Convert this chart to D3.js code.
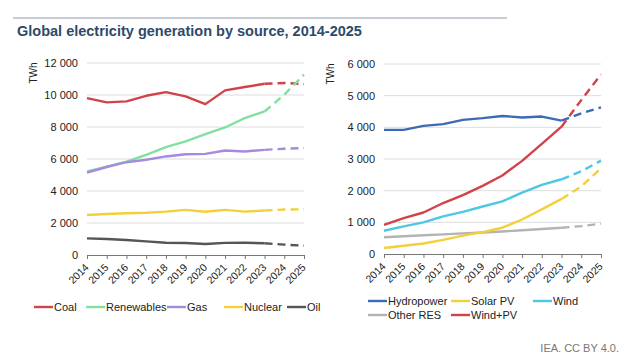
<!DOCTYPE html>
<html><head><meta charset="utf-8">
<script src="https://cdn.jsdelivr.net/npm/d3@7"></script>
<style>body{margin:0;background:#fff;font-family:"Liberation Sans",Arial,sans-serif;}</style>
</head><body>
<svg id="c" width="640" height="360"></svg>
<script>
const years = [2014,2015,2016,2017,2018,2019,2020,2021,2022,2023,2024,2025];
const coal = [9800,9540,9600,9950,10180,9910,9430,10290,10500,10700,10750,10690];
const renewables = [5220,5520,5840,6260,6740,7100,7550,7970,8560,8970,10020,11270];
const gas = [5150,5500,5800,5950,6160,6300,6320,6530,6470,6570,6640,6680];
const nuclear = [2500,2560,2610,2640,2710,2820,2700,2820,2710,2780,2840,2860];
const oil = [1040,1000,940,850,770,750,690,760,770,730,650,585];
const hydropower = [3920,3920,4045,4100,4235,4290,4360,4310,4340,4210,4440,4630];
const solarPV = [190,260,330,445,580,690,830,1090,1410,1740,2130,2710];
const wind = [735,870,1000,1190,1330,1500,1660,1940,2185,2360,2610,2950];
const otherRES = [530,560,590,620,650,680,710,750,790,830,880,960];
const windPV = [920,1130,1310,1610,1860,2150,2480,2940,3480,4020,4860,5670];
const leftTicks = [0,2000,4000,6000,8000,10000,12000];
const rightTicks = [0,1000,2000,3000,4000,5000,6000];
const lastActual = 2023;

const svg = d3.select("#c");
const fmt = v => d3.format(",")(v).replace(/,/g," ");

svg.append("line").attr("x1",13).attr("x2",507).attr("y1",18).attr("y2",18)
  .attr("stroke","#b4bcc6").attr("stroke-width",1.5);
svg.append("text").attr("x",17).attr("y",36).text("Global electricity generation by source, 2014-2025")
  .attr("font-size",14.5).attr("font-weight","bold").attr("fill","#2e4a6a");

function panel(cfg){
  const x = d3.scalePoint().domain(years).range([cfg.x0,cfg.x1]);
  const y = d3.scaleLinear().domain([0,d3.max(cfg.ticks)]).range([cfg.yb,cfg.yt]);
  const g = svg.append("g");
  g.selectAll("line.grid").data(cfg.ticks.slice(1)).enter().append("line")
    .attr("x1",cfg.x0).attr("x2",cfg.x1).attr("y1",d=>y(d)).attr("y2",d=>y(d))
    .attr("stroke","#dedede").attr("stroke-width",1);
  g.selectAll("text.yl").data(cfg.ticks).enter().append("text")
    .attr("x",cfg.x0-9).attr("y",d=>y(d)+4).attr("text-anchor","end")
    .attr("font-size",11).attr("fill","#222").text(fmt);
  g.append("text").attr("transform",`translate(${cfg.x0-50},${cfg.yt+10}) rotate(-90)`)
    .attr("text-anchor","middle").attr("font-size",10).attr("fill","#222").text("TWh");
  const ax = g.append("g").attr("transform",`translate(0,${cfg.yb})`)
    .call(d3.axisBottom(x).tickSize(4).tickSizeOuter(0));
  ax.select(".domain").attr("stroke","#777");
  ax.selectAll(".tick line").attr("stroke","#777");
  ax.selectAll(".tick text").attr("font-size",10.5).attr("fill","#222")
    .attr("font-family","Liberation Sans, Arial, sans-serif")
    .attr("text-anchor","end").attr("dy",0).attr("y",0)
    .attr("transform","translate(2,13) rotate(-45)");
  const line = d3.line().x(d=>x(d[0])).y(d=>y(d[1]));
  cfg.series.forEach(s=>{
    const pts = years.map((yr,i)=>[yr,s.values[i]]);
    const solid = pts.filter(p=>p[0]<=lastActual);
    const dash = pts.filter(p=>p[0]>=lastActual);
    g.append("path").attr("d",line(solid)).attr("fill","none").attr("stroke",s.color)
      .attr("stroke-width",2.4).attr("stroke-linejoin","round");
    g.append("path").attr("d",line(dash)).attr("fill","none").attr("stroke",s.color)
      .attr("stroke-width",2.4).attr("stroke-dasharray","8,5");
  });
  cfg.series.forEach(s=>{
    g.append("line").attr("x1",s.lx).attr("x2",s.lx+19).attr("y1",s.ly-4).attr("y2",s.ly-4)
      .attr("stroke",s.color).attr("stroke-width",2.4);
    g.append("text").attr("x",s.lx+20).attr("y",s.ly).attr("font-size",11).attr("fill","#222").text(s.name);
  });
}

panel({x0:87,x1:304,yt:63,yb:255,ticks:leftTicks,series:[
  {name:"Coal",values:coal,color:"#d2424a",lx:34,ly:311},
  {name:"Renewables",values:renewables,color:"#7fe0a0",lx:86,ly:311},
  {name:"Gas",values:gas,color:"#a48be0",lx:167,ly:311},
  {name:"Nuclear",values:nuclear,color:"#f3d03a",lx:224,ly:311},
  {name:"Oil",values:oil,color:"#555555",lx:287,ly:311}
]});
panel({x0:384,x1:601,yt:64,yb:254,ticks:rightTicks,series:[
  {name:"Other RES",values:otherRES,color:"#b3b3b3",lx:368,ly:319},
  {name:"Solar PV",values:solarPV,color:"#f3d03a",lx:451,ly:305},
  {name:"Wind",values:wind,color:"#4cc8e3",lx:533,ly:305},
  {name:"Hydropower",values:hydropower,color:"#3c6bb6",lx:368,ly:305},
  {name:"Wind+PV",values:windPV,color:"#d2424a",lx:451,ly:319}
]});

svg.append("text").attr("x",619).attr("y",352).attr("text-anchor","end")
  .attr("font-size",11).attr("fill","#777").text("IEA. CC BY 4.0.");
</script>
</body></html>
